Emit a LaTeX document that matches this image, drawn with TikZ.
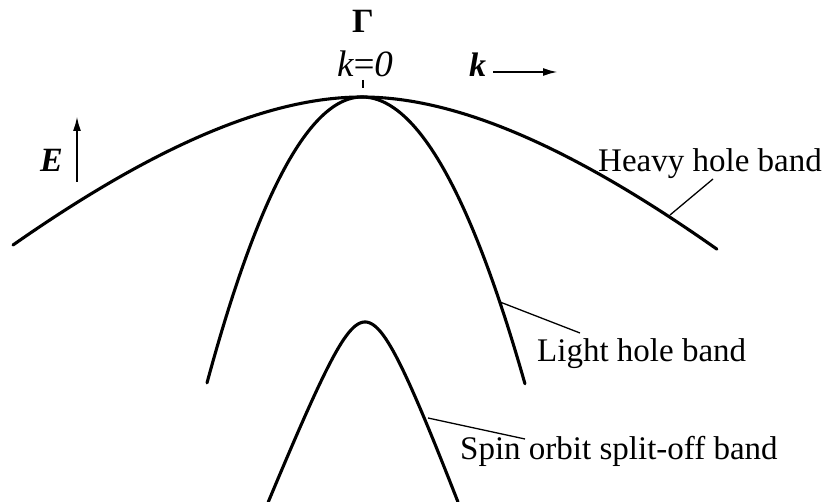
\documentclass[tikz,border=0pt]{standalone}
\usepackage{fontspec}
\setmainfont{Liberation Serif}
\usetikzlibrary{arrows.meta}
\begin{document}
\begin{tikzpicture}[x=1pt,y=-1pt,
  band/.style={line width=3.1pt,line join=round,line cap=round},
  leader/.style={line width=1.3pt},
  axarrow/.style={line width=2.2pt,-{Latex[length=15pt,width=8pt]}},
  lbl/.style={font=\fontsize{33}{36}\selectfont,inner sep=0pt,anchor=base west}]
\useasboundingbox (0,0) rectangle (827,502);
% heavy hole band
\draw[band] plot[domain=-3.49:3.55,samples=150] ({362+100*\x},{97+18.77*\x*\x/(1+0.156*abs(\x))});
% light hole band
\draw[band] plot[domain=-1.55:1.63,samples=120] ({362+100*\x},{97+100*\x*\x*((\x<0)*1.19+(\x>=0)*1.08)});
% spin-orbit split-off band
\draw[band] plot[domain=-0.968:0,samples=80] ({365+100*\x},{322+250*(sqrt(\x*\x+0.0841)-0.29)})
  -- plot[domain=0:0.93,samples=80] ({365+100*\x},{322+270*(sqrt(\x*\x+0.0992)-0.315)});
% labels
\node[lbl] (hh) at (598,172) {Heavy hole band};
\node[lbl] (lh) at (537,362) {Light hole band};
\node[lbl] (so) at (460,459) {Spin orbit split-off band};
\coordinate (hha) at (670,215);
\coordinate (hhb) at (713,179);
\coordinate (lha) at (500,302);
\coordinate (lhb) at (580,333);
\coordinate (soa) at (428,418);
\coordinate (sob) at (525,439);
\draw[leader] (hha) -- (hhb);
\draw[leader] (lha) -- (lhb);
\draw[leader] (soa) -- (sob);
% Gamma and k=0
\node[font=\fontsize{34}{36}\selectfont\bfseries,inner sep=0pt,anchor=base] (gam) at (363,33) {Γ};
\node[font=\fontsize{37}{40}\selectfont\itshape,inner sep=0pt,anchor=base] (k0) at (365,77) {k\kern-2pt=\kern-2pt0};
\coordinate (tka) at (363,80);
\coordinate (tkb) at (363,88);
\draw[line width=1.5pt] (tka) -- (tkb);
% k arrow
\node[font=\fontsize{34}{36}\selectfont\bfseries\itshape,inner sep=0pt,anchor=base west] (kk) at (469,77) {k};
\coordinate (kst) at (493,72);
\coordinate (kend) at (558,72);
\draw[axarrow] (kst) -- (kend);
% E arrow
\node[font=\fontsize{34}{36}\selectfont\bfseries\itshape,inner sep=0pt,anchor=base west] (ee) at (40,172) {E};
\coordinate (ea) at (77,182);
\coordinate (eb) at (77,116);
\draw[axarrow] (ea) -- (eb);
\end{tikzpicture}
\end{document}
